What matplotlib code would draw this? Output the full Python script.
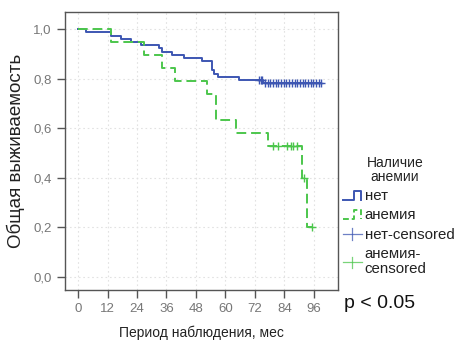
import matplotlib
matplotlib.use("Agg")
import matplotlib.pyplot as plt
from matplotlib.lines import Line2D
from matplotlib.legend_handler import HandlerBase

plt.rcParams['font.family'] = ['Liberation Sans', 'DejaVu Sans']

# Kaplan-Meier step data (months, survival)
net_t = [0, 3.3, 13.3, 17.4, 21.4, 25.6, 33, 34, 38.1, 43.1, 50.3, 54.4, 55.3, 57, 65.5, 75.4, 99]
net_s = [1.0, 0.987, 0.973, 0.96, 0.947, 0.937, 0.922, 0.909, 0.897, 0.885, 0.871, 0.833, 0.82, 0.807, 0.793, 0.783, 0.783]
net_cens_t = [73.6, 74.3, 75.0, 76.2, 77.2, 78.2, 79.2, 80.4, 81.5, 82.6, 83.7, 84.8, 85.9, 87.0, 88.1, 89.2,
              90.3, 91.4, 92.5, 93.6, 94.7, 95.8, 96.9, 97.9, 98.8]
net_cens_s = [0.793, 0.793, 0.793] + [0.783] * 22

anem_t = [0, 13.3, 27, 34, 39.5, 52.3, 56, 64.3, 77.4, 91.2, 93.3, 95.3]
anem_s = [1.0, 0.947, 0.896, 0.843, 0.79, 0.74, 0.633, 0.58, 0.53, 0.40, 0.20, 0.20]
anem_cens_t = [79.5, 81.5, 84.9, 86.5, 87.6, 89.0, 92.0, 95.3]
anem_cens_s = [0.53, 0.53, 0.53, 0.53, 0.53, 0.53, 0.40, 0.20]

x_ticks = [0, 12, 24, 36, 48, 60, 72, 84, 96]
y_ticks = [0.0, 0.2, 0.4, 0.6, 0.8, 1.0]
y_labels = ['0,0', '0,2', '0,4', '0,6', '0,8', '1,0']

BLUE = '#3D56B2'
GREEN = '#4CC64C'

fig = plt.figure(figsize=(4.55, 3.41), dpi=100)
ax = fig.add_axes([65/455, 1 - 290/341, (338-65)/455, (290-12)/341])

ax.step(net_t, net_s, where='post', color=BLUE, lw=1.4, zorder=3)
ax.step(anem_t, anem_s, where='post', color=GREEN, lw=1.4, ls=(0, (5, 2.5)), zorder=3)
ax.plot(net_cens_t, net_cens_s, ls='none', marker='+', ms=6, mew=1.0, color=BLUE, zorder=4)
ax.plot(anem_cens_t, anem_cens_s, ls='none', marker='+', ms=6, mew=1.0, color=GREEN, zorder=4)

ax.set_xlim(-5.3, 105.8)
ax.set_ylim(-0.053, 1.069)
ax.set_xticks(x_ticks)
ax.set_yticks(y_ticks)
ax.set_yticklabels(y_labels)
ax.grid(True, color='#e2e2e2', ls=(0, (1.5, 2.5)), lw=0.8)
ax.set_axisbelow(True)
for sp in ax.spines.values():
    sp.set_color('#555555')
    sp.set_linewidth(1.0)
ax.tick_params(axis='both', colors='#555555', labelcolor='#777777', labelsize=9.5, length=6, width=1.0)
ax.tick_params(axis='x', pad=3)

ax.set_xlabel('Период наблюдения, мес', fontsize=10, labelpad=8, color='#222222')
ax.set_ylabel('Общая выживаемость', fontsize=13.5, labelpad=6, color='#222222')

fig.text(344/455, 1 - 303/341, 'p < 0.05', fontsize=14, va='center', ha='left', color='#111111')

# Legend
fig.text(395/455, 1 - 170/341, 'Наличие\nанемии', fontsize=10, ha='center', va='center',
         linespacing=1.0, color='#222222')


class StepHandler(HandlerBase):
    def __init__(self, color, dashed=False):
        super().__init__()
        self.color = color
        self.dashed = dashed

    def create_artists(self, legend, orig_handle, xdescent, ydescent, width, height, fontsize, trans):
        w, h = width, height
        xs = [0, w * 0.55, w * 0.55, w * 0.9, w * 0.9]
        ys = [h * 0.05, h * 0.05, h * 0.95, h * 0.95, h * 0.05]
        ln = Line2D(xs, ys, color=self.color, lw=1.4, ls=(0, (3, 1.5)) if self.dashed else '-',
                    transform=trans)
        return [ln]


class PlusHandler(HandlerBase):
    def __init__(self, color):
        super().__init__()
        self.color = color

    def create_artists(self, legend, orig_handle, xdescent, ydescent, width, height, fontsize, trans):
        w, h = width, height
        l1 = Line2D([0, w * 0.95], [h * 0.5, h * 0.5], color=self.color, lw=0.9, alpha=0.75, transform=trans)
        l2 = Line2D([w * 0.45, w * 0.45], [-h * 0.1, h * 1.1], color=self.color, lw=0.9, alpha=0.75, transform=trans)
        return [l1, l2]


h1 = Line2D([], []); h2 = Line2D([], []); h3 = Line2D([], []); h4 = Line2D([], [])
leg = fig.legend([h1, h2, h3, h4], ['нет', 'анемия', 'нет-censored', 'анемия-\ncensored'],
                 handler_map={h1: StepHandler(BLUE), h2: StepHandler(GREEN, True),
                              h3: PlusHandler(BLUE), h4: PlusHandler(GREEN)},
                 loc='upper left', bbox_to_anchor=(343/455, 1 - 189/341), frameon=False,
                 fontsize=10.8, handlelength=1.35, handleheight=0.6, handletextpad=0.1,
                 labelspacing=0.36, borderpad=0, borderaxespad=0)
for t in leg.get_texts():
    t.set_color('#222222')
    t.set_linespacing(1.1)

fig.savefig('out.png', dpi=100)
